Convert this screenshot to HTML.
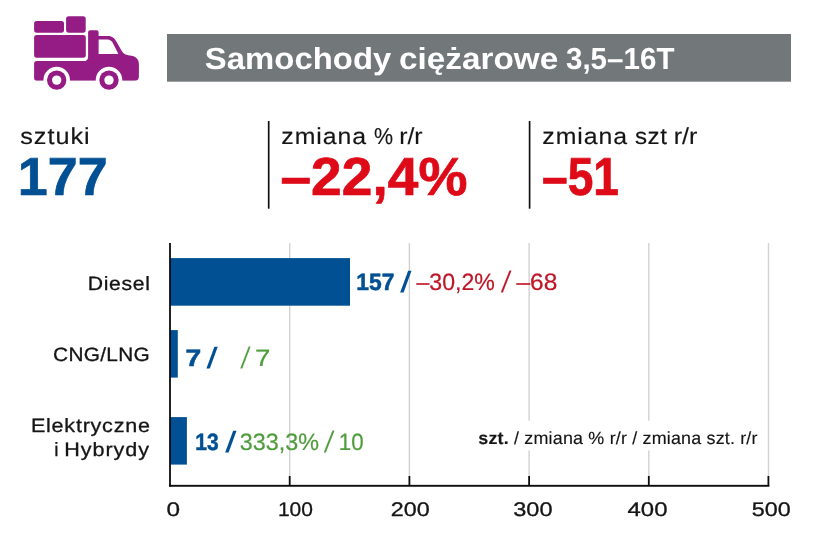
<!DOCTYPE html>
<html lang="pl">
<head>
<meta charset="utf-8">
<title>Samochody ciężarowe 3,5–16T</title>
<style>
html,body{margin:0;padding:0;background:#fff;}
body{width:825px;height:555px;position:relative;overflow:hidden;font-family:"Liberation Sans",sans-serif;color:#151515;}
.abs{position:absolute;}
.hd{margin:0;padding:0;font-size:inherit;font-weight:inherit;position:static;}
.t{position:absolute;display:block;white-space:nowrap;line-height:1;transform-origin:0 0;-webkit-text-stroke:0.15px currentColor;}
.b{font-weight:bold;}
.blue{color:#005093;}
.red{color:#de0a18;}
.dred{color:#be1527;}
.green{color:#4f9c3c;}
.t.blue.b{-webkit-text-stroke:0.5px currentColor;}
.t.b.big{-webkit-text-stroke:0.7px currentColor;}
.t.w,.t.b.blue.ns{-webkit-text-stroke:0;}
.t.dred,.t.green{-webkit-text-stroke:0.2px currentColor;}
.t.m{-webkit-text-stroke:0.3px currentColor;}
</style>
</head>
<body>
<!-- icon -->
<svg class="abs" style="left:0;top:0" width="160" height="100" viewBox="0 0 160 100" aria-hidden="true">
  <g fill="#941c84">
    <rect x="34.1" y="21" width="29.9" height="11.7" rx="2.6"/>
    <rect x="66.1" y="16.2" width="19.6" height="16.5" rx="2.6"/>
    <rect x="34.1" y="34.9" width="51.7" height="22.8" rx="2.6"/>
    <path d="M34.1 63.8 Q34.1 61.1 36.8 61.1 L83.4 61.1 Q88.1 61.1 88.1 56.4 L88.1 32.2 Q88.1 30.2 90.1 30.2 L96.6 30.2 Q98.6 30.2 98.6 32.2 L98.6 36 L108 36 C112.4 36 114.8 38.6 116.5 41.8 L121.9 51.2 C123.6 54 126 55 129.6 55.4 C135.4 56 138.9 58.6 138.9 64 L138.9 76.6 Q138.9 80.8 134.7 80.8 L36.8 80.8 Q34.1 80.8 34.1 78.1 Z"/>
  </g>
  <path d="M98.6 39.5 L107.2 39.5 C110 39.5 111.6 40.8 112.7 42.8 L118.4 53.9 L98.6 53.9 Z" fill="#fff"/>
  <circle cx="56.7" cy="80.1" r="13.3" fill="#fff"/>
  <circle cx="109" cy="80.1" r="13.3" fill="#fff"/>
  <rect x="30" y="80.8" width="115" height="12" fill="#fff"/>
  <circle cx="56.7" cy="80.1" r="9.7" fill="#941c84"/>
  <circle cx="109" cy="80.1" r="9.7" fill="#941c84"/>
  <circle cx="56.7" cy="80.1" r="4.7" fill="#fff"/>
  <circle cx="109" cy="80.1" r="4.7" fill="#fff"/>
</svg>

<!-- title bar -->
<svg class="abs" style="left:0;top:0" width="825" height="100" viewBox="0 0 825 100" aria-hidden="true">
  <rect x="167" y="34" width="624" height="47.7" fill="#72787a"/>
</svg>
<h1 class="hd">
<span id="t1" class="t b w" style="left:204px;top:42px;font-size:30.5px;transform:translate(0.81px,0.77px) skewX(0.1deg) scaleX(1.0786);color:#fff;">Samochody</span>
<span id="t2" class="t b w" style="left:398px;top:43px;font-size:30.5px;transform:translate(0.86px,0.47px) skewX(0.1deg) scaleX(1.0931);color:#fff;">ciężarowe</span>
<span id="t3" class="t b w" style="left:565px;top:43px;font-size:30.5px;transform:translate(0.90px,0.37px) skewX(0.1deg) scaleX(0.9695);color:#fff;">3,5–16T</span>
</h1>

<!-- stats -->
<svg class="abs" style="left:0;top:100px" width="825" height="130" viewBox="0 100 825 130" aria-hidden="true">
  <rect x="267.85" y="121" width="1.7" height="87.7" fill="#111"/>
  <rect x="528.75" y="121" width="1.7" height="87.7" fill="#111"/>
</svg>
<span id="s1l" class="t" style="left:20px;top:125px;font-size:23.0px;letter-spacing:0.887px;transform:translate(0.13px,0.15px) skewX(0.1deg) scaleX(1.1000);">sztuki</span>
<span id="s1v" class="t b blue big" style="left:17px;top:150px;font-size:53.5px;transform:translate(0.66px,0.02px) skewX(0.1deg) scaleX(1.0065);">177</span>
<div class="hd"><span id="s2l1" class="t" style="left:281px;top:125px;font-size:23.0px;letter-spacing:0.853px;transform:translate(0.30px,0.15px) skewX(0.1deg) scaleX(1.0800);">zmiana</span> <span id="s2l2" class="t" style="left:373px;top:124px;font-size:23.0px;transform:translate(0.91px,0.95px) skewX(0.1deg) scaleX(0.9339);">%</span> <span id="s2l3" class="t" style="left:399px;top:124px;font-size:23.0px;transform:translate(0.14px,0.95px) skewX(0.1deg) scaleX(1.0770);">r/r</span></div>
<span id="s2v" class="t b red big" style="left:280px;top:150px;font-size:53.5px;transform:translate(0.35px,0.02px) skewX(0.1deg) scaleX(1.0304);">–22,4%</span>
<div class="hd"><span id="s3l1" class="t" style="left:542px;top:124px;font-size:23.0px;letter-spacing:0.863px;transform:translate(0.31px,0.85px) skewX(0.1deg) scaleX(1.0800);">zmiana</span> <span id="s3l2" class="t" style="left:634px;top:124px;font-size:23.0px;letter-spacing:0.493px;transform:translate(0.99px,0.85px) skewX(0.1deg) scaleX(1.0500);">szt</span> <span id="s3l3" class="t" style="left:673px;top:124px;font-size:23.0px;transform:translate(0.68px,0.85px) skewX(0.1deg) scaleX(1.0944);">r/r</span></div>
<span id="s3v" class="t b red big" style="left:541px;top:149px;font-size:53.5px;transform:translate(0.93px,0.87px) skewX(0.1deg) scaleX(0.8628);">–51</span>

<!-- chart -->
<svg class="abs" style="left:0;top:230px" width="825" height="325" viewBox="0 230 825 325" aria-hidden="true">
  <g fill="#d2d2d2">
    <rect x="289.0" y="243" width="1.4" height="234"/>
    <rect x="408.7" y="243" width="1.4" height="234"/>
    <rect x="528.4" y="243" width="1.4" height="234"/>
    <rect x="648.1" y="243" width="1.4" height="234"/>
    <rect x="767.8" y="243" width="1.4" height="234"/>
  </g>
  <rect x="474" y="420.7" width="290" height="29.7" fill="#fff"/>
  <g fill="#005093">
    <rect x="170" y="258.1" width="180" height="47.6"/>
    <rect x="170" y="330.1" width="7.8" height="47.5"/>
    <rect x="170" y="417.1" width="16.9" height="47.5"/>
  </g>
  <g fill="#0c0c0c">
    <rect x="169.1" y="243" width="1.8" height="243.7"/>
    <rect x="169.1" y="484.85" width="600.2" height="1.9"/>
    <rect x="288.8" y="476" width="1.8" height="10"/>
    <rect x="408.5" y="476" width="1.8" height="10"/>
    <rect x="528.2" y="476" width="1.8" height="10"/>
    <rect x="647.9" y="476" width="1.8" height="10"/>
    <rect x="767.5" y="476" width="1.8" height="10"/>
  </g>
</svg>

<span id="c1" class="t m" style="left:87px;top:274px;font-size:19.3px;letter-spacing:0.597px;transform:translate(0.69px,0.24px) skewX(0.1deg) scaleX(1.1000);">Diesel</span>
<span id="c2" class="t m" style="left:53px;top:344px;font-size:19.3px;letter-spacing:0.278px;transform:translate(0.01px,0.74px) skewX(0.1deg) scaleX(1.0800);">CNG/LNG</span>
<span id="c3" class="t m" style="left:30px;top:415px;font-size:19.3px;letter-spacing:0.658px;transform:translate(0.91px,0.94px) skewX(0.1deg) scaleX(1.1200);">Elektryczne</span>
<div class="hd"><span id="c41" class="t m" style="left:54px;top:440px;font-size:19.3px;transform:translate(0.27px,0.34px) skewX(0.1deg) scaleX(1.0000);">i</span> <span id="c42" class="t m" style="left:64px;top:439px;font-size:19.3px;letter-spacing:0.822px;transform:translate(0.28px,0.84px) skewX(0.1deg) scaleX(1.1200);">Hybrydy</span></div>

<span id="v1a" class="t b blue" style="left:356px;top:270px;font-size:23.7px;transform:translate(0.23px,0.60px) skewX(0.1deg) scaleX(0.9646);">157</span>
<span id="v1s" class="t b blue ns" style="left:404px;top:267px;font-size:29.5px;transform:translate(0.33px,0.12px) skewX(-10deg) scaleX(0.9801);">/</span>
<div class="hd"><span id="v1b1" class="t dred" style="left:416px;top:270px;font-size:23.7px;transform:translate(0.38px,0.86px) skewX(0.1deg) scaleX(0.9775);">–30,2%</span> <span id="v1b2" class="t dred" style="left:505px;top:267px;font-size:29.5px;transform:translate(0.44px,0.12px) skewX(-10deg) scaleX(0.7946);">/</span> <span id="v1b3" class="t dred" style="left:516px;top:270px;font-size:23.7px;transform:translate(0.44px,0.86px) skewX(0.1deg) scaleX(1.0353);">–68</span></div>
<span id="v2a" class="t b blue" style="left:185px;top:347px;font-size:23.7px;transform:translate(0.50px,0.10px) skewX(0.1deg) scaleX(1.1965);">7</span>
<span id="v2s" class="t b blue ns" style="left:210px;top:342px;font-size:29.5px;transform:translate(0.70px,0.92px) skewX(-10deg) scaleX(0.9755);">/</span>
<div class="hd"><span id="v2b1" class="t green" style="left:244px;top:342px;font-size:29.5px;transform:translate(0.99px,0.92px) skewX(-10deg) scaleX(0.7506);">/</span> <span id="v2b2" class="t green" style="left:255px;top:346px;font-size:23.7px;transform:translate(0.07px,0.86px) skewX(0.1deg) scaleX(1.1693);">7</span></div>
<span id="v3a" class="t b blue" style="left:195px;top:431px;font-size:23.7px;transform:translate(0.25px,0.10px) skewX(0.1deg) scaleX(0.8886);">13</span>
<span id="v3s" class="t b blue ns" style="left:229px;top:427px;font-size:29.5px;transform:translate(0.33px,0.12px) skewX(-10deg) scaleX(0.9801);">/</span>
<div class="hd"><span id="v3b1" class="t green" style="left:239px;top:430px;font-size:23.7px;transform:translate(0.69px,0.86px) skewX(0.1deg) scaleX(0.9865);">333,3%</span> <span id="v3b2" class="t green" style="left:328px;top:427px;font-size:29.5px;transform:translate(0.44px,0.12px) skewX(-10deg) scaleX(0.7946);">/</span> <span id="v3b3" class="t green" style="left:338px;top:430px;font-size:23.7px;transform:translate(0.68px,0.86px) skewX(0.1deg) scaleX(0.9441);">10</span></div>

<span id="lg" class="t" style="left:478px;top:430px;font-size:17.6px;letter-spacing:0.161px;transform:translate(0.31px,0.04px) skewX(0.1deg) scaleX(1.0200);"><b>szt.</b> / zmiana % r/r / zmiana szt. r/r</span>

<span id="x0" class="t m" style="left:166px;top:499px;font-size:19.7px;transform:translate(0.52px,0.75px) skewX(0.1deg) scaleX(1.2366);">0</span>
<span id="x1" class="t m" style="left:277px;top:499px;font-size:19.7px;transform:translate(0.90px,0.75px) skewX(0.1deg) scaleX(1.0672);">100</span>
<span id="x2" class="t m" style="left:390px;top:499px;font-size:19.7px;transform:translate(0.80px,0.50px) skewX(0.1deg) scaleX(1.1870);">200</span>
<span id="x3" class="t m" style="left:513px;top:499px;font-size:19.7px;transform:translate(0.16px,0.50px) skewX(0.1deg) scaleX(1.1974);">300</span>
<span id="x4" class="t m" style="left:627px;top:499px;font-size:19.7px;transform:translate(0.48px,0.75px) skewX(0.1deg) scaleX(1.2179);">400</span>
<span id="x5" class="t m" style="left:751px;top:499px;font-size:19.7px;transform:translate(0.80px,0.50px) skewX(0.1deg) scaleX(1.1870);">500</span>
</body>
</html>
